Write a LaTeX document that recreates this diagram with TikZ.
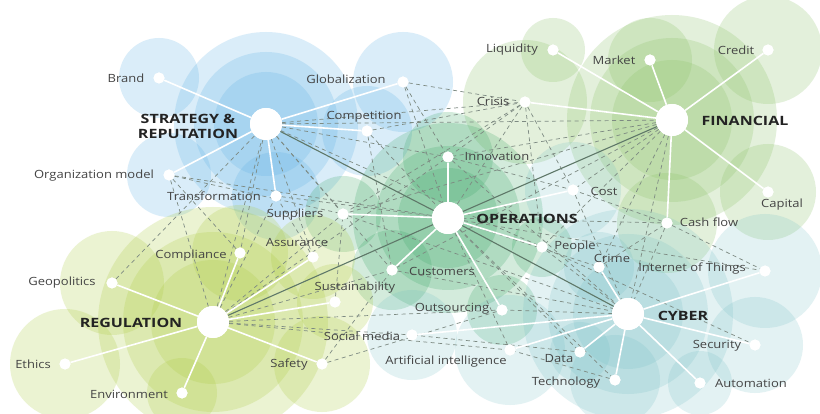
\documentclass[tikz,border=0pt]{standalone}
\usepackage{fontspec}
\setmainfont{Open Sans}[FakeStretch=1.15]
\newfontfamily\hubfont{Open Sans}[FakeStretch=1.25]
\begin{document}
\begin{tikzpicture}[x=1pt,y=-1pt,
  cB/.style={fill={rgb,255:red,90;green,175;blue,228},fill opacity=0.22},
  cF/.style={fill={rgb,255:red,140;green,195;blue,105},fill opacity=0.24},
  cO/.style={fill={rgb,255:red,55;green,165;blue,100},fill opacity=0.22},
  cC/.style={fill={rgb,255:red,115;green,190;blue,195},fill opacity=0.2},
  cR/.style={fill={rgb,255:red,175;green,205;blue,70},fill opacity=0.24},
  smalldot/.style={circle,fill=white,draw=none,minimum size=11pt,inner sep=0pt},
  hubdot/.style={circle,fill=white,draw=none,minimum size=32pt,inner sep=0pt},
  spoke/.style={draw=white,line width=1.6pt},
  hubline/.style={draw={rgb,255:red,95;green,120;blue,105},line width=1.1pt},
  xlink/.style={draw={rgb,255:red,125;green,138;blue,130},line width=0.7pt,dash pattern=on 4pt off 3.5pt},
  lbl/.style={font=\fontsize{11.3}{13}\selectfont,text={rgb,255:red,68;green,68;blue,68},inner sep=0pt},
  big/.style={font=\hubfont\fontsize{12.8}{15}\bfseries\selectfont,text={rgb,255:red,35;green,35;blue,35},inner sep=0pt,align=center}
]
\useasboundingbox (0,0) rectangle (820,414);
\fill[white] (0,0) rectangle (820,414);
\begin{scope}
\clip (0,0) rectangle (820,414);
% ---- Strategy circles
\fill[cB] (266,124) circle (92pt);
\fill[cB] (266,124) circle (72pt);
\fill[cB] (266,124) circle (52pt);
\fill[cB] (159,78) circle (40pt);
\fill[cB] (403,82) circle (50pt);
\fill[cB] (367,131) circle (45pt);
\fill[cB] (169,175) circle (42pt);
\fill[cB] (276,196) circle (44pt);
% ---- Financial circles
\fill[cF] (672,120) circle (105pt);
\fill[cF] (672,120) circle (82pt);
\fill[cF] (672,120) circle (60pt);
\fill[cF] (553,50) circle (32pt);
\fill[cF] (650,60) circle (42pt);
\fill[cF] (768,50) circle (54pt);
\fill[cF] (525,102) circle (62pt);
\fill[cF] (768,192) circle (48pt);
\fill[cF] (667,223) circle (50pt);
% ---- Operations circles
\fill[cO] (448,218) circle (95pt);
\fill[cO] (448,218) circle (72pt);
\fill[cO] (448,218) circle (50pt);
\fill[cO] (448,157) circle (45pt);
\fill[cC] (573,190) circle (48pt);
\fill[cO] (343,214) circle (38pt);
\fill[cO] (392,270) circle (40pt);
\fill[cO] (502,310) circle (35pt);
\fill[cO] (542,247) circle (30pt);
% ---- Cyber circles
\fill[cC] (628,314) circle (105pt);
\fill[cC] (628,314) circle (80pt);
\fill[cC] (628,314) circle (55pt);
\fill[cC] (765,271) circle (57pt);
\fill[cC] (755,345) circle (48pt);
\fill[cC] (700,383) circle (32pt);
\fill[cC] (615,380) circle (45pt);
\fill[cC] (510,350) circle (55pt);
\fill[cC] (412,335) circle (45pt);
\fill[cC] (599,267) circle (35pt);
\fill[cC] (580,352) circle (30pt);
% ---- Regulation circles
\fill[cR] (213,322) circle (115pt);
\fill[cR] (213,322) circle (90pt);
\fill[cR] (213,322) circle (62pt);
\fill[cR] (112,283) circle (52pt);
\fill[cR] (65,364) circle (55pt);
\fill[cR] (182,393) circle (35pt);
\fill[cR] (322,364) circle (48pt);
\fill[cR] (335,302) circle (38pt);
\fill[cR] (240,253) circle (48pt);
\fill[cR] (313,257) circle (42pt);
\end{scope}

% ---- hub nodes
\node[hubdot] (SR) at (266,124) {};
\node[hubdot] (OP) at (448,218) {};
\node[hubdot] (FI) at (672,120) {};
\node[hubdot] (RE) at (213,322) {};
\node[hubdot] (CY) at (628,314) {};
% ---- item nodes
\node[smalldot] (brand) at (159,78) {};
\node[smalldot] (glob) at (403,82) {};
\node[smalldot] (comp) at (367,131) {};
\node[smalldot] (org) at (169,175) {};
\node[smalldot] (trans) at (276,196) {};
\node[smalldot] (supp) at (343,214) {};
\node[smalldot] (liq) at (553,50) {};
\node[smalldot] (mark) at (650,60) {};
\node[smalldot] (cred) at (768,50) {};
\node[smalldot] (cris) at (525,102) {};
\node[smalldot] (capi) at (768,192) {};
\node[smalldot] (cash) at (667,223) {};
\node[smalldot] (inno) at (448,157) {};
\node[smalldot] (cost) at (573,190) {};
\node[smalldot] (peop) at (542,247) {};
\node[smalldot] (cust) at (392,270) {};
\node[smalldot] (outs) at (502,310) {};
\node[smalldot] (crim) at (599,267) {};
\node[smalldot] (iot) at (765,271) {};
\node[smalldot] (secu) at (755,345) {};
\node[smalldot] (auto) at (700,383) {};
\node[smalldot] (tech) at (615,380) {};
\node[smalldot] (data) at (580,352) {};
\node[smalldot] (ai) at (510,350) {};
\node[smalldot] (soc) at (412,335) {};
\node[smalldot] (geo) at (112,283) {};
\node[smalldot] (compl) at (240,253) {};
\node[smalldot] (assu) at (313,257) {};
\node[smalldot] (sust) at (335,302) {};
\node[smalldot] (safe) at (322,364) {};
\node[smalldot] (env) at (182,393) {};
\node[smalldot] (eth) at (65,364) {};

% ---- dashed cross links
\foreach \a/\b in {SR/cris, glob/cris, comp/cris, SR/FI, SR/inno, SR/supp, SR/cust, SR/compl, SR/assu, SR/peop,
  org/supp, org/OP, trans/OP, geo/SR, RE/org, RE/trans, RE/SR, RE/supp, RE/inno, RE/soc, RE/ai, RE/outs, RE/cust,
  safe/cust, cris/inno, cris/cost, cris/OP, glob/inno, comp/OP, comp/cust, FI/inno, FI/cost, FI/peop, FI/crim, FI/CY,
  FI/supp, FI/cust, cash/OP, cash/cost, cash/iot, cash/CY, cost/CY, peop/CY, cust/CY, supp/CY, inno/CY, OP/data,
  OP/tech, OP/ai, OP/crim, OP/iot, peop/secu, tech/ai, data/soc, compl/org, assu/trans, sust/supp, safe/outs,
  CY/outs, inno/cost, crim/cash, glob/OP, cris/peop, cris/supp}
  \draw[xlink] (\a) -- (\b);

% ---- hub to hub
\draw[hubline] (SR) -- (OP);
\draw[hubline] (OP) -- (FI);
\draw[hubline] (OP) -- (CY);
\draw[hubline] (RE) -- (OP);

% ---- spokes
\foreach \b in {brand, glob, comp, org, trans} \draw[spoke] (SR) -- (\b);
\foreach \b in {liq, mark, cred, cris, capi, cash} \draw[spoke] (FI) -- (\b);
\foreach \b in {inno, cost, peop, cust, outs, supp} \draw[spoke] (OP) -- (\b);
\foreach \b in {crim, iot, secu, auto, tech, data, ai, soc} \draw[spoke] (CY) -- (\b);
\foreach \b in {geo, compl, assu, sust, safe, env, eth} \draw[spoke] (RE) -- (\b);

% redraw dots on top
\foreach \n in {SR,OP,FI,RE,CY} \fill[white] (\n) circle (16pt);
\foreach \n in {brand,glob,comp,org,trans,supp,liq,mark,cred,cris,capi,cash,inno,cost,peop,cust,outs,crim,iot,secu,auto,tech,data,ai,soc,geo,compl,assu,sust,safe,env,eth}
  \fill[white] (\n) circle (5.5pt);

% ---- labels
\node[lbl] (brandL) at (126,78) {Brand};
\node[lbl] (globL) at (346,79) {Globalization};
\node[lbl] (compL) at (364,117) {Competition};
\node[big] (SRL) at (188,126) {STRATEGY \&\\REPUTATION};
\node[lbl] (orgL) at (94,176) {Organization model};
\node[lbl] (transL) at (214,196) {Transformation};
\node[lbl] (suppL) at (295,215) {Suppliers};
\node[lbl] (liqL) at (512,50) {Liquidity};
\node[lbl] (markL) at (614,60) {Market};
\node[lbl] (credL) at (736,50) {Credit};
\node[lbl] (crisL) at (493,101) {Crisis};
\node[big] (FIL) at (745,121) {FINANCIAL};
\node[lbl] (innoL) at (497,156) {Innovation};
\node[lbl] (costL) at (604,191) {Cost};
\node[lbl] (capiL) at (782,205) {Capital};
\node[lbl] (cashL) at (709,222) {Cash flow};
\node[big] (OPL) at (527,219) {OPERATIONS};
\node[lbl] (peopL) at (575,247) {People};
\node[lbl] (crimL) at (612,258) {Crime};
\node[lbl] (iotL) at (692,269) {Internet of Things};
\node[lbl] (custL) at (442,271) {Customers};
\node[big] (CYL) at (683,316) {CYBER};
\node[lbl] (outsL) at (452,309) {Outsourcing};
\node[lbl] (socL) at (362,336) {Social media};
\node[lbl] (secuL) at (717,346) {Security};
\node[lbl] (aiL) at (446,362) {Artificial intelligence};
\node[lbl] (dataL) at (559,359) {Data};
\node[lbl] (techL) at (566,383) {Technology};
\node[lbl] (autoL) at (751,383) {Automation};
\node[big] (REL) at (131,323) {REGULATION};
\node[lbl] (geoL) at (62,283) {Geopolitics};
\node[lbl] (complL) at (191,256) {Compliance};
\node[lbl] (assuL) at (297,243) {Assurance};
\node[lbl] (sustL) at (355,288) {Sustainability};
\node[lbl] (ethL) at (33,364) {Ethics};
\node[lbl] (safeL) at (289,365) {Safety};
\node[lbl] (envL) at (129,394) {Environment};
\end{tikzpicture}
\end{document}
